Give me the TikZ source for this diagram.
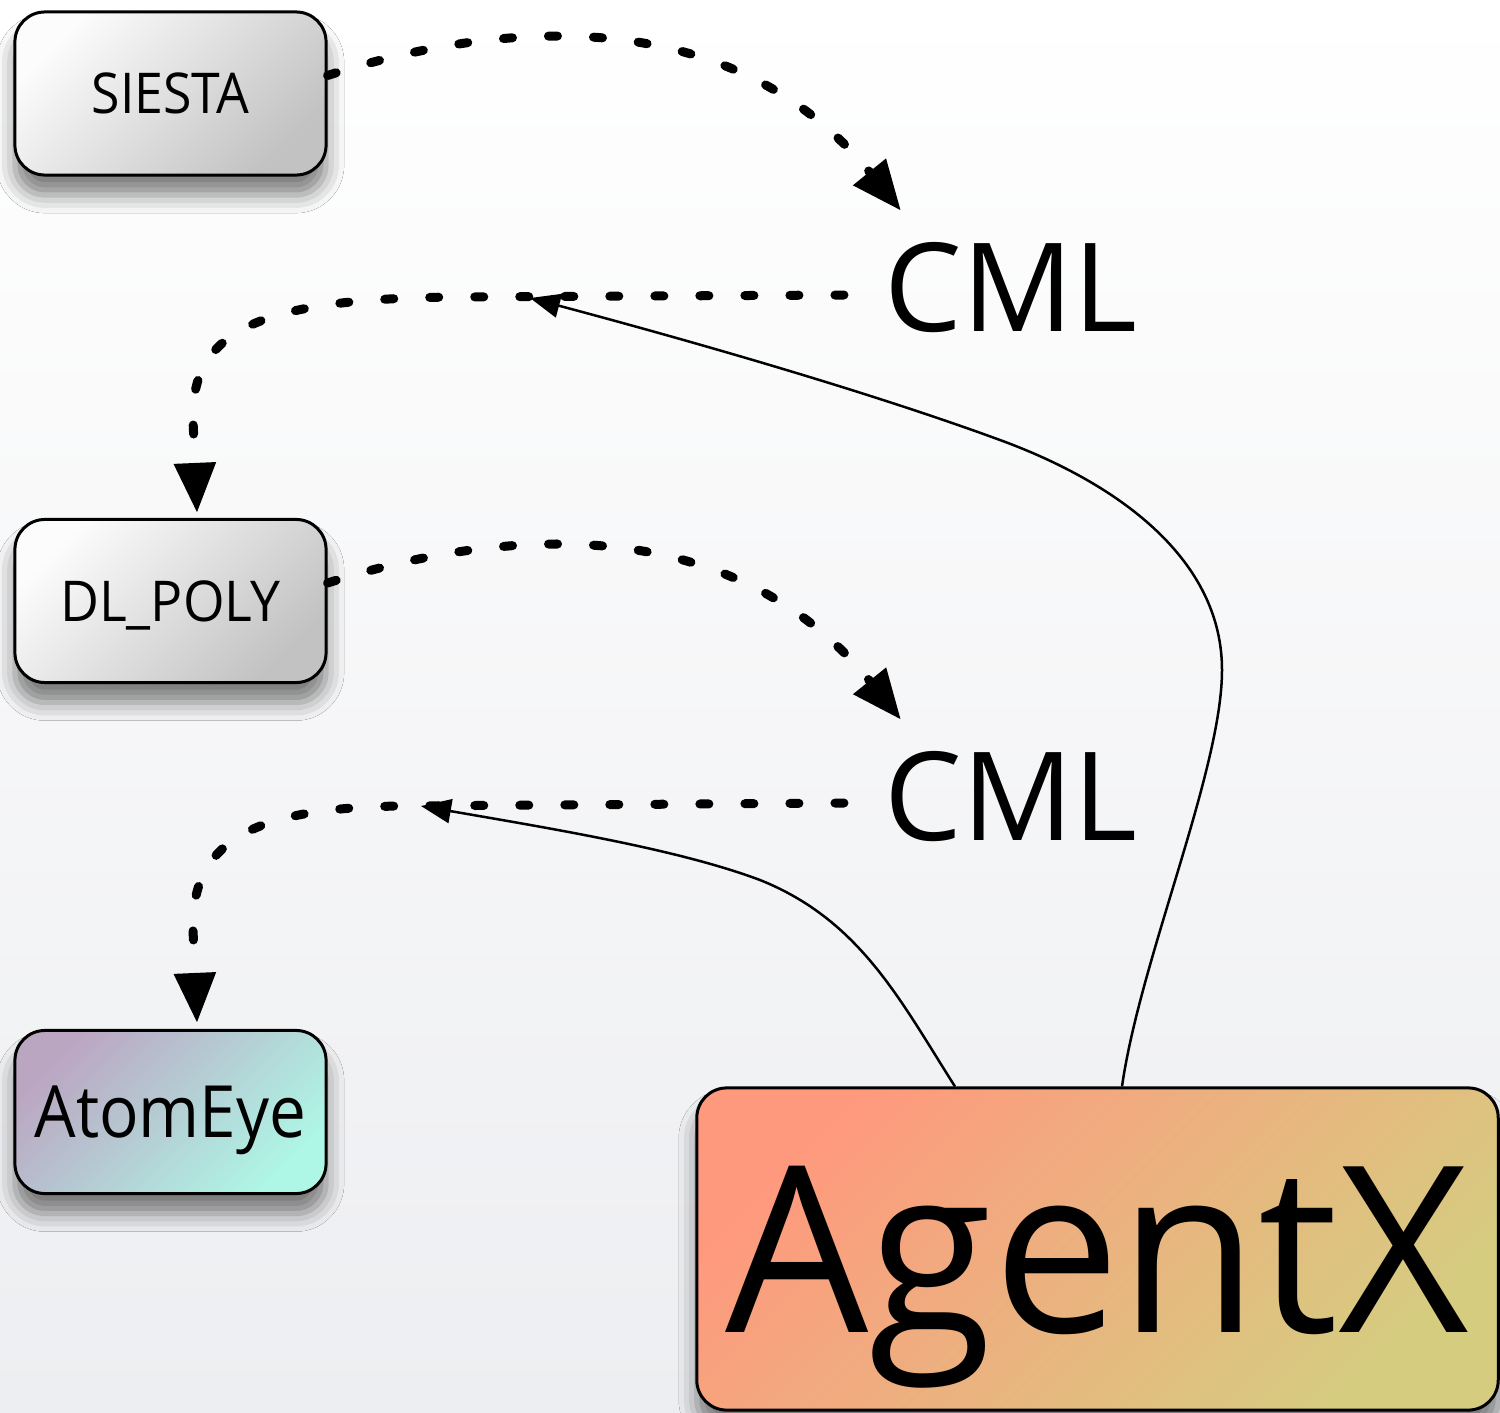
\documentclass[tikz,border=0pt]{standalone}
\usepackage{fontspec}
\setmainfont{Open Sans}
\usetikzlibrary{arrows.meta,shadows.blur}
\definecolor{bgbot}{HTML}{EDEEF1}
\definecolor{boxlt}{HTML}{FCFCFC}
\definecolor{boxdk}{HTML}{C2C2C2}
\definecolor{aelt}{HTML}{BBA6C2}
\definecolor{aedk}{HTML}{AEF6E6}
\definecolor{axlt}{HTML}{FF997E}
\definecolor{axdk}{HTML}{D6CC80}
\begin{document}
\begin{tikzpicture}[x=0.01cm,y=-0.01cm,
  box/.style={draw=black, line width=0.03cm, rounded corners=0.3cm,
    minimum width=3.11cm, minimum height=1.63cm, inner sep=0pt, text depth=0pt,
    blur shadow={shadow xshift=0cm, shadow yshift=-0.2cm, shadow blur radius=0.18cm, shadow opacity=50}},
  grayfill/.style={top color=boxlt, bottom color=boxdk, shading angle=45},
  lbl/.style={inner sep=0pt, text depth=0pt},
  dsh/.style={line width=0.09cm, line cap=round, dash pattern=on 0.09cm off 0.36cm,
    -{Triangle[length=0.5cm,width=0.4cm]}},
  thn/.style={line width=0.025cm, -{Triangle[length=0.3cm,width=0.24cm]}}]
\useasboundingbox (0,0) rectangle (1500,1412);
\fill[top color=white, bottom color=bgbot] (0,0) rectangle (1500,1412);

% boxes
\node[box, grayfill, font=\fontsize{16}{19}\selectfont] (siesta) at (170.5,93.5) {\scalebox{0.92}[1]{SIESTA}};
\node[box, grayfill, font=\fontsize{16}{19}\selectfont] (dlpoly) at (170.5,601) {\scalebox{0.95}[1]{DL\_POLY}};
\node[box, top color=aelt, bottom color=aedk, shading angle=45, font=\fontsize{20.5}{25}\selectfont] (atomeye) at (170.5,1112) {\scalebox{0.91}[1]{AtomEye}};
\node[box, top color=axlt, bottom color=axdk, shading angle=45, minimum width=8.01cm, minimum height=3.22cm, font=\fontsize{66}{70}\selectfont] (agentx) at (1097.5,1249) {\scalebox{0.975}[1]{AgentX}};

% CML labels
\node[lbl, font=\fontsize{35}{40}\selectfont] (cml1) at (1011,287) {CML};
\node[lbl, font=\fontsize{35}{40}\selectfont] (cml2) at (1011,796) {CML};

% junction points on the dashed lines
\coordinate (j1) at (530,298);
\coordinate (j2) at (421,806);

% dashed connectors
\draw[dsh] ([yshift=0.18cm]siesta.east) .. controls (500,20) and (730,0) .. ([shift={(0.17cm,0.31cm)}]cml1.north west);
\draw[dsh] ([yshift=0.18cm]dlpoly.east) .. controls (500,528) and (730,508) .. ([shift={(0.17cm,0.31cm)}]cml2.north west);
\draw[dsh] ([shift={(-0.4cm,-0.08cm)}]cml1.west) -- (460,297) .. controls (260,298) and (191,330) .. (193,420) -- ([xshift=0.265cm,yshift=0.05cm]dlpoly.north);
\draw[dsh] ([shift={(-0.4cm,-0.07cm)}]cml2.west) -- (400,806) .. controls (255,808) and (191,840) .. (193,930) -- ([xshift=0.265cm,yshift=0.06cm]atomeye.north);

% thin connectors from AgentX
\draw[thn] ([xshift=0.245cm]agentx.north) .. controls (1140,960) and (1222,770) .. (1222,670)
  .. controls (1222,560) and (1120,484) .. (1000,440)
  .. controls (850,385) and (650,330) .. (j1);
\draw[thn] ([xshift=-1.425cm]agentx.north) .. controls (900,1000) and (860,920) .. (760,880)
  .. controls (680,850) and (560,830) .. (j2);
\end{tikzpicture}
\end{document}
